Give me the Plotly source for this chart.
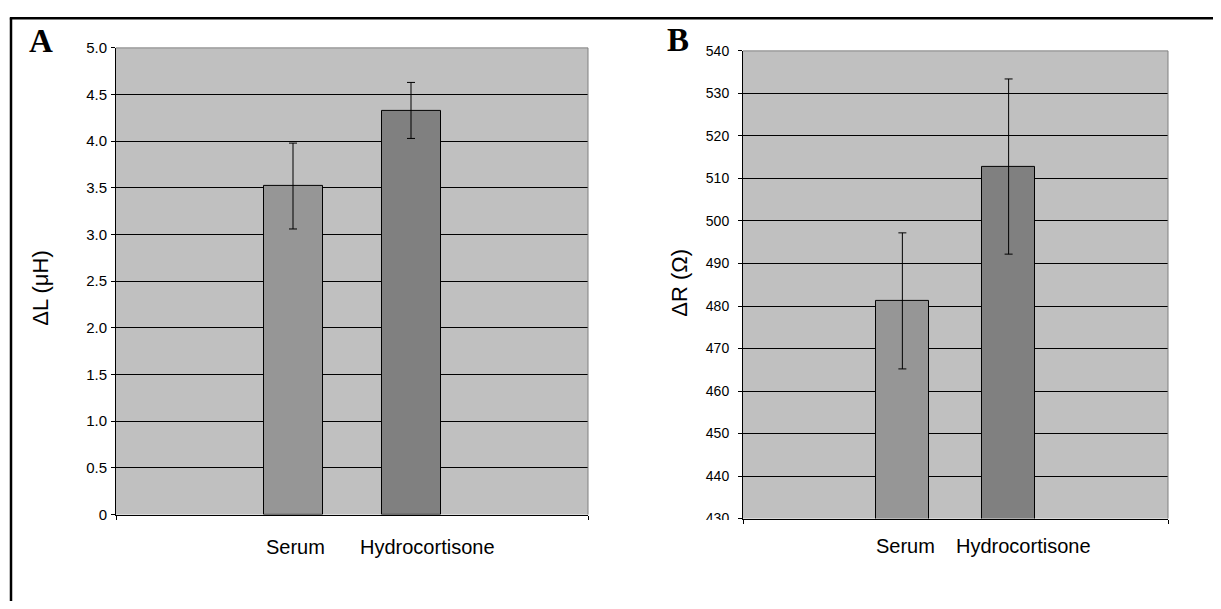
import plotly.graph_objects as go

# ---------------- data ----------------
categories = ["Serum", "Hydrocortisone"]
delta_L = [3.52, 4.33]
delta_L_err = [0.46, 0.30]
delta_R = [481.2, 512.8]
delta_R_err = [16.0, 20.6]
L_tick_vals = [0, 0.5, 1.0, 1.5, 2.0, 2.5, 3.0, 3.5, 4.0, 4.5, 5.0]
L_tick_text = ["0", "0.5", "1.0", "1.5", "2.0", "2.5", "3.0", "3.5", "4.0", "4.5", "5.0"]
R_tick_vals = [430, 440, 450, 460, 470, 480, 490, 500, 510, 520, 530, 540]
R_tick_text = ["430", "440", "450", "460", "470", "480", "490", "500", "510", "520", "530", "540"]
panel_letters = ["A", "B"]
y_titles = ["ΔL (μH)", "ΔR (Ω)"]
bar_colors = ["#969696", "#808080"]

# ---------------- layout helpers ----------------
OFF = 8                              # default body margin of the page
W, H = 1221 - 2 * OFF, 609 - 2 * OFF
VS, VB = 0.972, 9.3                  # observed vertical mapping of the photograph

def px(x):
    return (x - OFF) / W

def py(y):
    yf = (y - VB) / VS - OFF
    return 1 - yf / H

slots = [3, 5]          # bar centres inside an 8-slot category band
label_slots = [3.05, 5.28]

FONT = "Liberation Sans, Arial, sans-serif"
SERIF = "Liberation Serif, Times New Roman, serif"

fig = go.Figure()

fig.add_trace(go.Bar(
    x=slots, y=delta_L, width=1,
    marker=dict(color=bar_colors, line=dict(color="black", width=1)),
    error_y=dict(type="data", array=delta_L_err, visible=True,
                 color="black", thickness=1, width=4),
    xaxis="x", yaxis="y", showlegend=False, hoverinfo="y"))

fig.add_trace(go.Bar(
    x=slots, y=delta_R, width=1,
    marker=dict(color=bar_colors, line=dict(color="black", width=1)),
    error_y=dict(type="data", array=delta_R_err, visible=True,
                 color="black", thickness=1, width=4),
    xaxis="x2", yaxis="y2", showlegend=False, hoverinfo="y"))

common_x = dict(range=[0, 8], tickvals=[0, 8], ticktext=["", ""], ticks="outside",
                ticklen=4, tickcolor="black", showline=True, linecolor="black",
                linewidth=1, showgrid=False, zeroline=False, fixedrange=True)
common_y = dict(ticks="outside", ticklen=4, tickcolor="black", showline=True,
                linecolor="black", linewidth=1, showgrid=True, gridcolor="black",
                gridwidth=1, zeroline=False)

fig.update_layout(
    width=W, height=H,
    margin=dict(l=0, r=0, t=0, b=0),
    paper_bgcolor="white",
    plot_bgcolor="#C0C0C0",
    bargap=0,
    xaxis=dict(domain=[px(116), px(588)], anchor="y", **common_x),
    yaxis=dict(domain=[py(515), py(48)], anchor="x", range=[0, 5],
               tickvals=L_tick_vals, ticktext=L_tick_text, ticklabelstandoff=1,
               tickfont=dict(family=FONT, size=15, color="black"), **common_y),
    xaxis2=dict(domain=[px(743), px(1168)], anchor="y2", **common_x),
    yaxis2=dict(domain=[py(519), py(51)], anchor="x2", range=[430, 540],
                tickvals=R_tick_vals, ticktext=R_tick_text, ticklabelstandoff=6,
                tickfont=dict(family=FONT, size=14, color="black"), **common_y),
)

shapes = []
# outer figure border (only left & top visible in frame)
top_y = 1 - 1.3 / H
shapes.append(dict(type="line", xref="paper", yref="paper", x0=px(11), x1=px(11),
                   y0=top_y, y1=-0.2, line=dict(color="black", width=2.5)))
shapes.append(dict(type="line", xref="paper", yref="paper", x0=px(9.8), x1=1.2,
                   y0=top_y, y1=top_y, line=dict(color="black", width=2.5)))
# grey top/right frame of each plot area
for xr, yr in (("x domain", "y domain"), ("x2 domain", "y2 domain")):
    shapes.append(dict(type="line", xref=xr, yref=yr, x0=0, x1=1, y0=1, y1=1,
                       line=dict(color="#808080", width=1)))
    shapes.append(dict(type="line", xref=xr, yref=yr, x0=1, x1=1, y0=0, y1=1,
                       line=dict(color="#808080", width=1)))
# the lowest tick label of panel B is cut off by the axis in the original
shapes.append(dict(type="rect", xref="paper", yref="paper", x0=px(690), x1=px(738.5),
                   y0=py(532), y1=py(520.5), fillcolor="white", line=dict(width=0),
                   layer="above"))
fig.update_layout(shapes=shapes)

ann = []
# panel letters
ann.append(dict(text="<b>%s</b>" % panel_letters[0], xref="paper", yref="paper",
                x=px(41), y=py(41), xanchor="center", yanchor="middle", showarrow=False,
                font=dict(family=SERIF, size=33, color="black")))
ann.append(dict(text="<b>%s</b>" % panel_letters[1], xref="paper", yref="paper",
                x=px(678), y=py(40), xanchor="center", yanchor="middle", showarrow=False,
                font=dict(family=SERIF, size=33, color="black")))
# y titles
ann.append(dict(text=y_titles[0], xref="paper", yref="paper", x=px(41), y=py(289),
                textangle=-90, xanchor="center", yanchor="middle", showarrow=False,
                font=dict(family=FONT, size=22, color="black")))
ann.append(dict(text=y_titles[1], xref="paper", yref="paper", x=px(680), y=py(283),
                textangle=-90, xanchor="center", yanchor="middle", showarrow=False,
                font=dict(family=FONT, size=22, color="black")))
# category labels
for xr, ypix in (("x", 547), ("x2", 546)):
    for cat, s in zip(categories, label_slots):
        ann.append(dict(text=cat, xref=xr, yref="paper", x=s, y=py(ypix),
                        xanchor="center", yanchor="middle", showarrow=False,
                        font=dict(family=FONT, size=20, color="black")))
fig.update_layout(annotations=ann)

fig.write_html("out.html")
